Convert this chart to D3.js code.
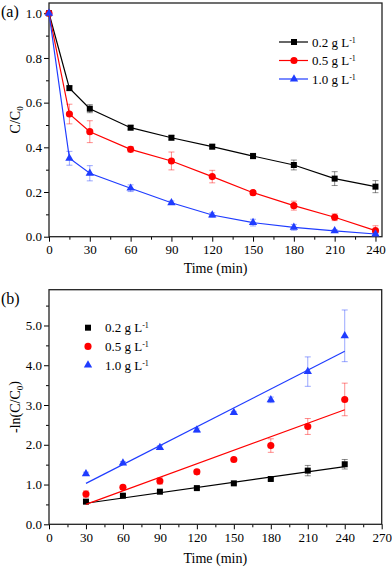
<!DOCTYPE html>
<html>
<head>
<meta charset="utf-8">
<script src="https://cdn.jsdelivr.net/npm/d3@7"></script>
<style>
  body { margin: 0; background: #fff; }
  svg { display: block; }
  svg text { font-family: "Liberation Serif", "Times New Roman", serif; }
</style>
</head>
<body>
<script>
// panel (a): C/C0 versus time
const timeA = [0, 15, 30, 60, 90, 120, 150, 180, 210, 240];
const a02 = [1.0, 0.665, 0.573, 0.488, 0.443, 0.403, 0.361, 0.321, 0.260, 0.224];
const a02Err = [0, 0.01, 0.018, 0.01, 0.01, 0.01, 0.012, 0.022, 0.031, 0.027];
const a05 = [1.0, 0.549, 0.470, 0.391, 0.339, 0.269, 0.197, 0.139, 0.087, 0.027];
const a05Err = [0, 0.044, 0.049, 0.012, 0.04, 0.028, 0.01, 0.02, 0.015, 0.022];
const a10 = [1.0, 0.351, 0.284, 0.217, 0.152, 0.097, 0.063, 0.042, 0.026, 0.012];
const a10Err = [0, 0.031, 0.034, 0.015, 0.008, 0.01, 0.015, 0.013, 0.006, 0.005];

// panel (b): -ln(C/C0) versus time, with linear fits
const timeB = [30, 60, 90, 120, 150, 180, 210, 240];
const b02 = [0.57, 0.72, 0.82, 0.91, 1.03, 1.14, 1.35, 1.51];
const b02Err = [0.05, 0.03, 0.03, 0.03, 0.02, 0.03, 0.13, 0.12];
const b05 = [0.76, 0.93, 1.09, 1.32, 1.63, 1.98, 2.46, 3.14];
const b05Err = [0.08, 0.05, 0.08, 0.06, 0.03, 0.17, 0.2, 0.41];
const b10 = [1.27, 1.54, 1.93, 2.37, 2.81, 3.13, 3.84, 4.74];
const b10Err = [0.04, 0.04, 0.05, 0.05, 0.03, 0.07, 0.37, 0.65];
const fitTime = [30, 240];
const fit02 = [0.53, 1.45];
const fit05 = [0.50, 2.88];
const fit10 = [1.03, 4.35];

const seriesNames = ["0.2 g L", "0.5 g L", "1.0 g L"];
const colors = ["#000000", "#ff0000", "#1f3cff"];
const shapes = [d3.symbolSquare, d3.symbolCircle, d3.symbolTriangle];
const shapeSizes = [36, 40, 30];

const ticksAx = [0, 30, 60, 90, 120, 150, 180, 210, 240];
const ticksAy = [0, 0.2, 0.4, 0.6, 0.8, 1.0];
const ticksBx = [0, 30, 60, 90, 120, 150, 180, 210, 240, 270];
const ticksBy = [0, 1, 2, 3, 4, 5];

const serif = "Liberation Serif";

let svg = d3.select("body").append("svg")
  .attr("width", 392)
  .attr("height", 569);

function drawFrame(box, x, y, xTicks, yTicks, xMinor, yMinor) {
  let g = svg.append("g");

  g.append("g")
    .attr("transform", "translate(0," + box.bottom + ")")
    .call(d3.axisBottom(x).tickValues(xMinor).tickSize(3).tickFormat(""))
    .call(a => a.select(".domain").remove());
  g.append("g")
    .attr("transform", "translate(" + box.left + ",0)")
    .call(d3.axisLeft(y).tickValues(yMinor).tickSize(3).tickFormat(""))
    .call(a => a.select(".domain").remove());

  let xa = g.append("g")
    .attr("transform", "translate(0," + box.bottom + ")")
    .call(d3.axisBottom(x).tickValues(xTicks).tickSize(5).tickPadding(3).tickFormat(d3.format("d")));
  let ya = g.append("g")
    .attr("transform", "translate(" + box.left + ",0)")
    .call(d3.axisLeft(y).tickValues(yTicks).tickSize(5).tickPadding(2).tickFormat(d3.format(".1f")));

  [xa, ya].forEach(a => {
    a.select(".domain").remove();
    a.attr("font-family", serif);
    a.selectAll("text")
      .style("font-family", serif)
      .style("font-size", "13px")
      .attr("fill", "#000");
  });
  g.selectAll("line").attr("stroke", "#000").attr("stroke-width", 1);

  g.append("rect")
    .attr("x", box.left)
    .attr("y", box.top)
    .attr("width", box.right - box.left)
    .attr("height", box.bottom - box.top)
    .attr("fill", "none")
    .attr("stroke", "#222")
    .attr("stroke-width", 1.3);
}

function drawErrors(g, x, y, times, vals, errs, color) {
  let rows = times.map((t, i) => ({t: t, v: vals[i], e: errs[i]})).filter(d => d.e > 0);
  let eg = g.append("g")
    .attr("stroke", color)
    .attr("stroke-opacity", 0.45)
    .attr("stroke-width", 1);
  eg.selectAll(".bar").data(rows).join("line")
    .attr("x1", d => x(d.t)).attr("x2", d => x(d.t))
    .attr("y1", d => y(d.v - d.e)).attr("y2", d => y(d.v + d.e));
  [1, -1].forEach(s => {
    eg.selectAll(".cap" + s).data(rows).join("line")
      .attr("x1", d => x(d.t) - 3).attr("x2", d => x(d.t) + 3)
      .attr("y1", d => y(d.v + s * d.e)).attr("y2", d => y(d.v + s * d.e));
  });
}

function drawMarkers(g, x, y, times, vals, i) {
  g.append("g").selectAll("path").data(times).join("path")
    .attr("transform", (t, j) => "translate(" + x(t) + "," + y(vals[j]) + ")")
    .attr("d", d3.symbol(shapes[i], shapeSizes[i]))
    .attr("fill", colors[i]);
}

function addSup(text, base, sup) {
  text.append("tspan").text(base);
  text.append("tspan")
    .attr("dy", "-0.5em")
    .style("font-size", "8px")
    .text(sup);
}

function label(x, y, size) {
  return svg.append("text")
    .attr("x", x).attr("y", y)
    .style("font-family", serif)
    .style("font-size", size + "px");
}

// ---------- panel (a)
let boxA = {left: 49, right: 382, top: 3, bottom: 236.7};
let xA = d3.scaleLinear().domain([0, 244.8]).range([boxA.left, boxA.right]);
let yA = d3.scaleLinear().domain([0, 1.046]).range([boxA.bottom, boxA.top]);

drawFrame(boxA, xA, yA, ticksAx, ticksAy,
  d3.range(15, 241, 30), d3.range(0.1, 1.0, 0.2));

let plotA = svg.append("g");
let seriesA = [[a02, a02Err], [a05, a05Err], [a10, a10Err]];
seriesA.forEach((s, i) => drawErrors(plotA, xA, yA, timeA, s[0], s[1], colors[i]));
seriesA.forEach((s, i) => {
  plotA.append("path")
    .datum(s[0])
    .attr("fill", "none")
    .attr("stroke", colors[i])
    .attr("stroke-width", 1.2)
    .attr("d", d3.line().x((d, j) => xA(timeA[j])).y(d => yA(d)));
  drawMarkers(plotA, xA, yA, timeA, s[0], i);
});

let legA = svg.append("g");
seriesNames.forEach((name, i) => {
  let ly = 42 + i * 18.5;
  legA.append("line")
    .attr("x1", 279).attr("x2", 308).attr("y1", ly).attr("y2", ly)
    .attr("stroke", colors[i]).attr("stroke-width", 1.2);
  legA.append("path")
    .attr("transform", "translate(294," + ly + ")")
    .attr("d", d3.symbol(shapes[i], shapeSizes[i]))
    .attr("fill", colors[i]);
  addSup(label(312, ly + 4.5, 13), name, "-1");
});

label(1, 17, 16).text("(a)");

label((boxA.left + boxA.right) / 2, 273, 14)
  .attr("text-anchor", "middle")
  .text("Time (min)");

let ylA = label(0, 0, 14)
  .attr("transform", "translate(20," + ((boxA.top + boxA.bottom) / 2) + ") rotate(-90)")
  .attr("text-anchor", "middle");
ylA.append("tspan").text("C/C");
ylA.append("tspan").attr("dy", "0.3em").style("font-size", "9px").text("0");

// ---------- panel (b)
let boxB = {left: 49, right: 381.7, top: 289.7, bottom: 524.3};
let xB = d3.scaleLinear().domain([0, 270]).range([boxB.left, boxB.right]);
let yB = d3.scaleLinear().domain([0, 5.9]).range([boxB.bottom, boxB.top]);

drawFrame(boxB, xB, yB, ticksBx, ticksBy,
  d3.range(15, 270, 30), d3.range(0.5, 5.9, 1));

let plotB = svg.append("g");
let seriesB = [[b02, b02Err, fit02], [b05, b05Err, fit05], [b10, b10Err, fit10]];
seriesB.forEach((s, i) => drawErrors(plotB, xB, yB, timeB, s[0], s[1], colors[i]));
seriesB.forEach((s, i) => {
  plotB.append("path")
    .datum(s[2])
    .attr("fill", "none")
    .attr("stroke", colors[i])
    .attr("stroke-width", 1.2)
    .attr("d", d3.line().x((d, j) => xB(fitTime[j])).y(d => yB(d)));
  drawMarkers(plotB, xB, yB, timeB, s[0], i);
});

let legB = svg.append("g");
seriesNames.forEach((name, i) => {
  let ly = 327.7 + i * 18.7;
  legB.append("path")
    .attr("transform", "translate(88," + ly + ")")
    .attr("d", d3.symbol(shapes[i], shapeSizes[i]))
    .attr("fill", colors[i]);
  addSup(label(105, ly + 4.5, 13), name, "-1");
});

label(1, 304, 16).text("(b)");

label((boxB.left + boxB.right) / 2, 563, 14)
  .attr("text-anchor", "middle")
  .text("Time (min)");

let ylB = label(0, 0, 14)
  .attr("transform", "translate(20," + ((boxB.top + boxB.bottom) / 2) + ") rotate(-90)")
  .attr("text-anchor", "middle");
ylB.append("tspan").text("-ln(C/C");
ylB.append("tspan").attr("dy", "0.3em").style("font-size", "9px").text("0");
ylB.append("tspan").attr("dy", "-0.3em").text(")");
</script>
</body>
</html>
